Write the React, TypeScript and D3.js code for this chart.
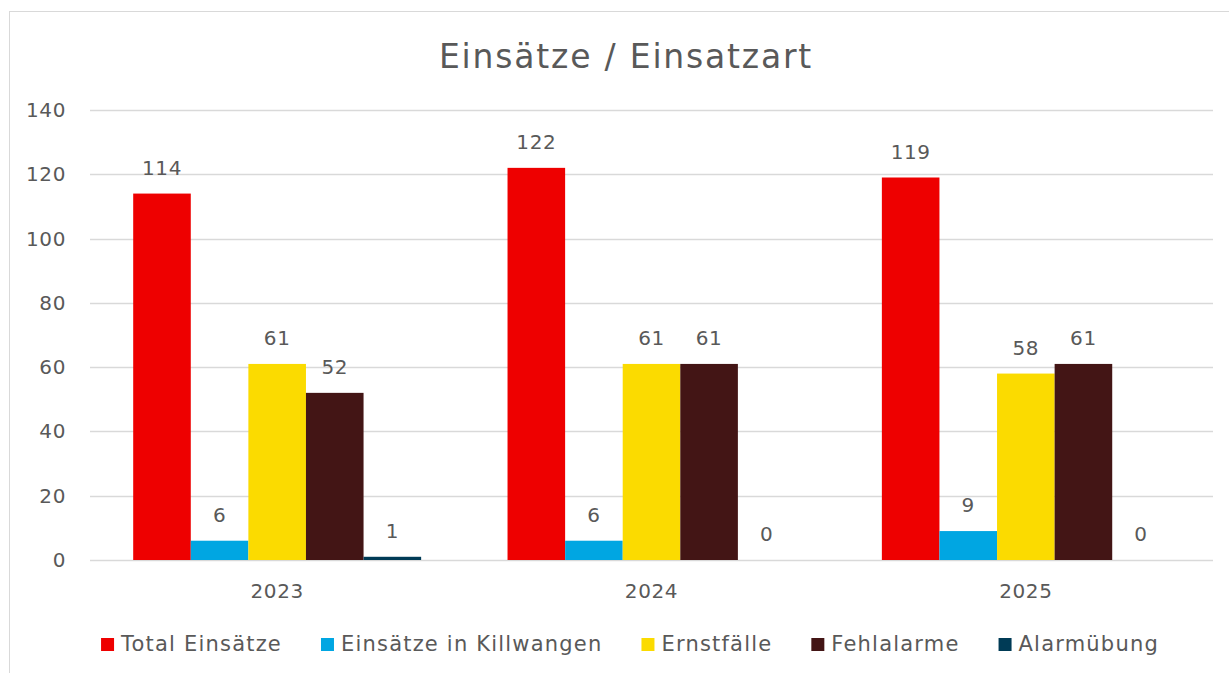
import { useEffect, useRef } from "react";
import * as d3 from "d3";

const years = ["2023", "2024", "2025"];
const seriesNames = ["Total Einsätze", "Einsätze in Killwangen", "Ernstfälle", "Fehlalarme", "Alarmübung"];
const seriesColors = ["#ee0000", "#00a6e2", "#fbdb00", "#431515", "#003b56"];
const totalEinsaetze = [114, 122, 119];
const killwangen = [6, 6, 9];
const ernstfaelle = [61, 61, 58];
const fehlalarme = [52, 61, 61];
const alarmuebung = [1, 0, 0];
const yTicks = [0, 20, 40, 60, 80, 100, 120, 140];

const FONT = "'DejaVu Sans', sans-serif";
const TEXT = "#595959";

export default function App() {
  const svgRef = useRef<SVGSVGElement>(null);

  useEffect(() => {
    const svg = svgRef.current;
    if (!svg) return;
    d3.select(svg).selectAll("*").remove();

    const width = 1229;
    const height = 673;
    const plot = { left: 90, right: 1213, top: 110, bottom: 560 };
    const series = [totalEinsaetze, killwangen, ernstfaelle, fehlalarme, alarmuebung];

    const root = d3.select(svg).attr("width", width).attr("height", height);

    root.append("rect").attr("width", width).attr("height", height).attr("fill", "#fff");
    // chart frame (runs past the right/bottom edge)
    root
      .append("rect")
      .attr("x", 9.5)
      .attr("y", 11.5)
      .attr("width", 1260)
      .attr("height", 700)
      .attr("fill", "none")
      .attr("stroke", "#d9d9d9")
      .attr("stroke-width", 1);

    const x0 = d3.scaleBand().domain(years).range([plot.left, plot.right]).paddingInner(0).paddingOuter(0);
    const x1 = d3
      .scaleBand()
      .domain(seriesNames)
      .range([0, x0.bandwidth()])
      .paddingInner(0)
      .paddingOuter(0.75);
    const y = d3.scaleLinear().domain([0, 140]).range([plot.bottom, plot.top]);

    // title
    root
      .append("text")
      .attr("x", 626)
      .attr("y", 56)
      .attr("dy", "0.35em")
      .attr("text-anchor", "middle")
      .attr("font-family", FONT)
      .attr("font-size", 33)
      .attr("letter-spacing", 1.8)
      .attr("fill", TEXT)
      .text("Einsätze / Einsatzart");

    // grid
    root
      .append("g")
      .selectAll("line")
      .data(yTicks)
      .join("line")
      .attr("x1", plot.left)
      .attr("x2", plot.right)
      .attr("y1", (d) => Math.round(y(d)) + 0.5)
      .attr("y2", (d) => Math.round(y(d)) + 0.5)
      .attr("stroke", "#d9d9d9")
      .attr("stroke-width", 1.3);

    // y labels
    root
      .append("g")
      .selectAll("text")
      .data(yTicks)
      .join("text")
      .attr("x", 66)
      .attr("y", (d) => y(d))
      .attr("dy", "0.35em")
      .attr("text-anchor", "end")
      .attr("font-family", FONT)
      .attr("font-size", 20)
      .attr("letter-spacing", 0.6)
      .attr("fill", TEXT)
      .text((d) => d);

    // x labels
    root
      .append("g")
      .selectAll("text")
      .data(years)
      .join("text")
      .attr("x", (d) => x0(d)! + x0.bandwidth() / 2)
      .attr("y", 591)
      .attr("dy", "0.35em")
      .attr("text-anchor", "middle")
      .attr("font-family", FONT)
      .attr("font-size", 20)
      .attr("letter-spacing", 0.6)
      .attr("fill", TEXT)
      .text((d) => d);

    // bars + labels
    const groups = root
      .append("g")
      .selectAll("g")
      .data(years)
      .join("g")
      .attr("transform", (d) => `translate(${x0(d)},0)`);

    seriesNames.forEach((name, si) => {
      groups
        .append("rect")
        .attr("x", x1(name)!)
        .attr("width", x1.bandwidth())
        .attr("y", (_, i) => y(series[si][i]))
        .attr("height", (_, i) => y(0) - y(series[si][i]))
        .attr("fill", seriesColors[si]);

      groups
        .append("text")
        .attr("x", x1(name)! + x1.bandwidth() / 2)
        .attr("y", (_, i) => y(series[si][i]) - 26)
        .attr("dy", "0.35em")
        .attr("text-anchor", "middle")
        .attr("font-family", FONT)
        .attr("font-size", 20)
        .attr("letter-spacing", 0.6)
        .attr("fill", TEXT)
        .text((_, i) => series[si][i]);
    });

    // legend
    const legend = root.append("g");
    const items = legend
      .selectAll("g")
      .data(seriesNames)
      .join("g");
    items
      .append("text")
      .attr("x", 20)
      .attr("y", 644)
      .attr("dy", "0.35em")
      .attr("font-family", FONT)
      .attr("font-size", 21)
      .attr("letter-spacing", 1.2)
      .attr("fill", TEXT)
      .text((d) => d);
    items
      .append("rect")
      .attr("x", 0)
      .attr("y", 638)
      .attr("width", 13)
      .attr("height", 13)
      .attr("fill", (_, i) => seriesColors[i]);

    const widths: number[] = [];
    items.select("text").each(function () {
      widths.push((this as SVGTextElement).getComputedTextLength());
    });
    const gap = 39;
    const total = d3.sum(widths, (w) => w + 20) + gap * (widths.length - 1);
    let cx = 630 - total / 2;
    items.attr("transform", (_, i) => {
      const t = `translate(${cx},0)`;
      cx += widths[i] + 20 + gap;
      return t;
    });
  }, []);

  return <svg ref={svgRef} style={{ display: "block", position: "absolute", left: 0, top: 0 }} />;
}
